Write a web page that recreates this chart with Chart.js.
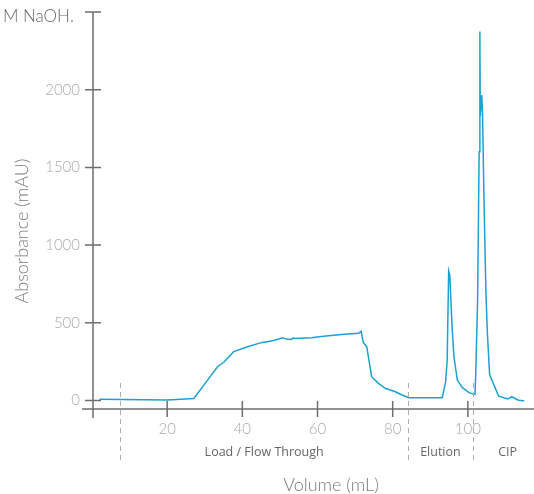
<!DOCTYPE html>
<html>
<head>
<meta charset="utf-8">
<script src="https://cdn.jsdelivr.net/npm/chart.js@4"></script>
<style>
  html, body { margin: 0; padding: 0; background: #fff; }
  #wrap { width: 534px; height: 494px; position: relative; }
</style>
</head>
<body>
<div id="wrap"><canvas id="grafica"></canvas></div>
<script>
// Datos del cromatograma
const volumen = [2.0, 20, 27.1, 31.1, 33.4, 35.2, 37.7, 41.4, 45.0, 48.1, 50.8, 51.7, 53.0, 53.6, 53.9,
  58.4, 61.0, 66.4, 70.9, 71.6, 72.2, 73.1, 74.4, 76.2, 78.0, 80.7, 82.5, 84.3, 93.2, 94.1, 94.5,
  94.9, 95.2, 95.8, 96.3, 97.2, 98.5, 100.3, 101.9, 102.1, 102.6, 103.0, 103.2, 103.3, 103.7,
  103.9, 104.3, 104.8, 105.2, 105.8, 108.2, 110.6, 111.7, 113.3, 115.0];
const absorbancia = [7, 3, 13, 142, 217, 249, 314, 346, 372, 384, 404, 395, 393, 402, 398,
  404, 412, 425, 432, 445, 372, 346, 153, 110, 78, 56, 35, 18, 18, 121, 260,
  833, 807, 475, 281, 131, 84, 50, 39, 174, 646, 1600, 2375, 1830, 1966,
  1850, 1290, 700, 430, 165, 28, 9, 24, 3, -4];

const ticksX = [20, 40, 60, 80, 100];
const ticksY = [0, 500, 1000, 1500, 2000, 2500];
const limitesFase = [7.5, 84.1, 101.4];
const nombresFase = ["Load / Flow Through", "Elution", "CIP"];
const centrosFase = [45.8, 92.7, 110.6];

// Plugin para ejes cruzados, líneas de fase y textos
const decoracion = {
  id: "decoracion",
  afterDraw(chart) {
    const ctx = chart.ctx;
    const x = chart.scales.x;
    const y = chart.scales.y;
    const y0 = y.getPixelForValue(y.min);
    const x0 = x.getPixelForValue(0) + 1;
    ctx.save();

    // ejes
    ctx.strokeStyle = "#6e6e6e";
    ctx.lineWidth = 1.5;
    ctx.beginPath();
    ctx.moveTo(x0, y.getPixelForValue(2500));
    ctx.lineTo(x0, y0 + 9);
    ctx.moveTo(x0 - 11, y0);
    ctx.lineTo(chart.width, y0);
    ticksY.forEach((v) => {
      const py = y.getPixelForValue(v);
      ctx.moveTo(x0 - 8, py);
      ctx.lineTo(x0 + 8, py);
    });
    ticksX.forEach((v) => {
      const px = x.getPixelForValue(v);
      ctx.moveTo(px, y0 - 8);
      ctx.lineTo(px, y0 + 8);
    });
    ctx.stroke();

    // líneas de fase
    ctx.strokeStyle = "#b0b0b0";
    ctx.lineWidth = 1;
    ctx.setLineDash([5, 4]);
    ctx.beginPath();
    limitesFase.forEach((v) => {
      const px = Math.round(x.getPixelForValue(v)) + 0.5;
      ctx.moveTo(px, 383);
      ctx.lineTo(px, 462);
    });
    ctx.stroke();
    ctx.setLineDash([]);

    // nombres de fase
    ctx.fillStyle = "#666";
    ctx.font = "12.5px 'Open Sans'";
    ctx.textAlign = "center";
    ctx.textBaseline = "middle";
    nombresFase.forEach((n, i) => {
      ctx.fillText(n, x.getPixelForValue(centrosFase[i]), 452);
    });

    // títulos
    ctx.fillStyle = "#7a7a7a";
    ctx.font = "300 18px Lato";
    ctx.fillText("Volume (mL)", 331, 485);
    ctx.save();
    ctx.translate(22, 231);
    ctx.rotate(-Math.PI / 2);
    ctx.fillText("Absorbance (mAU)", 0, 0);
    ctx.restore();

    ctx.fillStyle = "#666";
    ctx.font = "300 17px Lato";
    ctx.textAlign = "left";
    ctx.fillText("M NaOH.", 3, 17);
    ctx.restore();
  },
};

const ctxGrafica = document.getElementById("grafica").getContext("2d");
new Chart(ctxGrafica, {
  type: "line",
  data: {
    datasets: [
      {
        data: volumen.map((v, i) => ({ x: v, y: absorbancia[i] })),
        borderColor: "#1ba1d3",
        borderWidth: 1.5,
        pointRadius: 0,
        tension: 0,
        fill: false,
      },
    ],
  },
  options: {
    responsive: true,
    maintainAspectRatio: false,
    animation: false,
    layout: { padding: { top: 12, right: 0, left: 0, bottom: 0 } },
    plugins: { legend: { display: false }, tooltip: { enabled: false } },
    scales: {
      x: {
        type: "linear",
        min: 0,
        max: 117.6,
        afterBuildTicks: (s) => { s.ticks = ticksX.map((v) => ({ value: v })); },
        afterFit: (s) => { s.height = 85; s.paddingLeft = 0; s.paddingRight = 0; },
        grid: { display: false, drawTicks: false },
        border: { display: false },
        ticks: { color: "#aaa", font: { family: "Lato", size: 15, weight: "300" }, padding: 11, maxRotation: 0 },
      },
      y: {
        min: -55,
        max: 2500,
        afterBuildTicks: (s) => { s.ticks = ticksY.map((v) => ({ value: v })); },
        afterFit: (s) => { s.width = 92; s.paddingTop = 0; s.paddingBottom = 0; },
        grid: { display: false, drawTicks: false },
        border: { display: false },
        ticks: {
          color: "#aaa",
          font: { family: "Lato", size: 15, weight: "300" },
          padding: 12,
          callback: (v) => (v === 2500 ? "" : v),
        },
      },
    },
  },
  plugins: [decoracion],
});
</script>
</body>
</html>
